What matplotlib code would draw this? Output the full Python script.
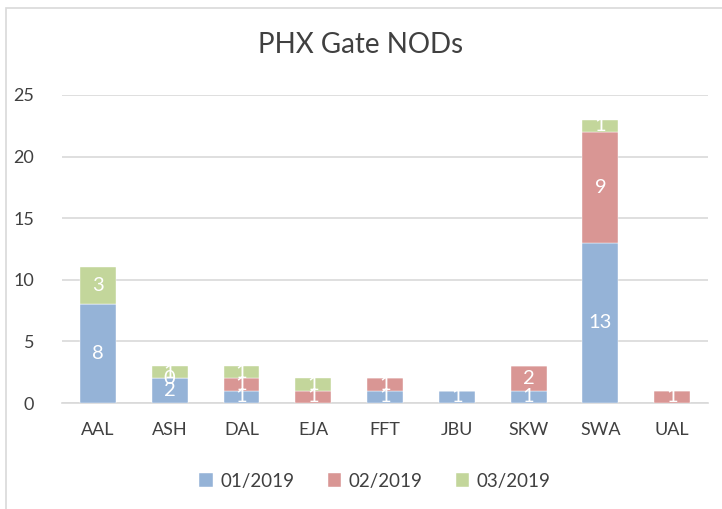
import numpy as np
import matplotlib.pyplot as plt
from matplotlib.patches import Rectangle

carriers = ["AAL", "ASH", "DAL", "EJA", "FFT", "JBU", "SKW", "SWA", "UAL"]
series_names = ["01/2019", "02/2019", "03/2019"]
jan = [8, 2, 1, np.nan, 1, 1, 1, 13, np.nan]
feb = [np.nan, 0, 1, 1, 1, np.nan, 2, 9, 1]
mar = [3, 1, 1, 1, np.nan, np.nan, np.nan, 1, np.nan]
colors = ["#95B3D7", "#D99694", "#C3D69B"]
yticks = [0, 5, 10, 15, 20, 25]

plt.rcParams['font.family'] = ['Lato', 'DejaVu Sans']
text_color = "#404040"

fig = plt.figure(figsize=(7.22, 5.09), dpi=100)
ax = fig.add_axes([62 / 722, 1 - 403 / 509, 646 / 722, 308 / 509])

# chart border (cropped on the right and bottom)
fig.patches.append(Rectangle((6 / 722, -0.1), 1.2, 1 - 8 / 509 + 0.1,
                             transform=fig.transFigure, fill=False,
                             edgecolor="#D9D9D9", linewidth=1.2))

x = np.arange(len(carriers))
bottom = np.zeros(len(carriers))
for name, vals, col in zip(series_names, [jan, feb, mar], colors):
    v = np.array(vals, dtype=float)
    h = np.nan_to_num(v)
    ax.bar(x, h, 0.5, bottom=bottom, color=col, label=name,
           edgecolor="white", linewidth=0.3, zorder=3)
    for i in range(len(carriers)):
        if not np.isnan(v[i]):
            ax.text(x[i], bottom[i] + h[i] / 2, "%d" % v[i], ha="center",
                    va="center", color="white", fontsize=14.5, zorder=4)
    bottom += h

ax.set_xlim(-0.5, len(carriers) - 0.5)
ax.set_ylim(0, 25)
ax.set_yticks(yticks)
ax.set_xticks(x)
ax.set_xticklabels(carriers)
ax.yaxis.grid(True, color="#D9D9D9", linewidth=1.2, zorder=0)
ax.set_axisbelow(True)
for s in ["top", "right", "left"]:
    ax.spines[s].set_visible(False)
ax.spines["bottom"].set_color("#D9D9D9")
ax.spines["bottom"].set_linewidth(1.2)
ax.tick_params(length=0, labelsize=13, colors=text_color, pad=14)
ax.tick_params(axis="y", pad=20)

fig.text(0.5, 1 - 45 / 509, "PHX Gate NODs", ha="center", va="center",
         fontsize=20, color=text_color)

fig.legend(loc="center", bbox_to_anchor=(375 / 722, 1 - 481 / 509), ncol=3,
           frameon=False, fontsize=13.5, handlelength=0.7, handleheight=0.7,
           handletextpad=0.4, columnspacing=1.8, labelcolor=text_color)

fig.savefig("out.png", dpi=100)
